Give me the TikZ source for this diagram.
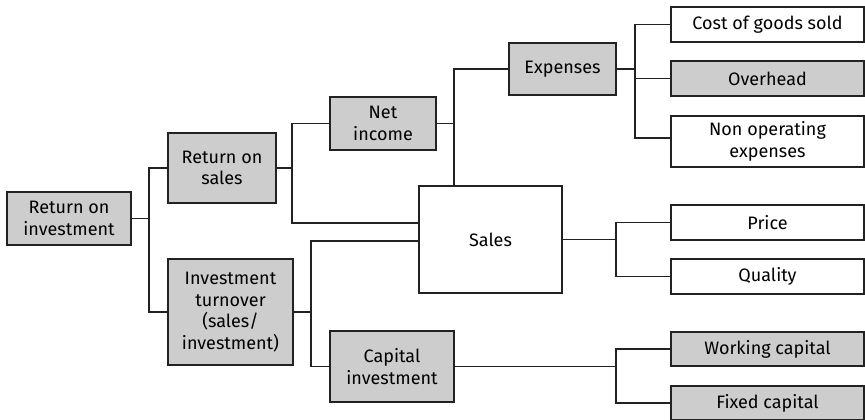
\documentclass[tikz,border=0pt]{standalone}
\usepackage{fontspec}
\setmainfont{Fira Sans}
\definecolor{boxgray}{HTML}{CDCDCD}
\definecolor{edge}{HTML}{222222}
\begin{document}
\begin{tikzpicture}[x=1pt,y=-1pt,
  every node/.style={font=\fontsize{18}{21.5}\selectfont, align=center, inner sep=0pt},
  bx/.style={draw=edge, line width=1.4pt, minimum width=#1},
  grey/.style={fill=boxgray},
  conn/.style={draw=edge, line width=1.4pt}]
\useasboundingbox (0,0) rectangle (865,420);
\node[bx=124, grey, minimum height=53] (roi) at (69,218.5) {Return on\\investment};
\node[bx=108, grey, minimum height=70] (ros) at (222,168) {Return on\\sales};
\node[bx=125, grey, minimum height=106] (it) at (230.5,312) {Investment\\turnover\\(sales/\\investment)};
\node[bx=106, grey, minimum height=53] (ni) at (383,123.5) {Net\\income};
\node[bx=143, minimum height=107] (sales) at (490.5,239.5) {Sales};
\node[bx=124, grey, minimum height=71] (ci) at (392,366.5) {Capital\\investment};
\node[bx=107, grey, minimum height=52] (exp) at (562.5,69) {Expenses};
\node[bx=193, minimum height=35] (cogs) at (767.5,24.5) {Cost of goods sold};
\node[bx=193, grey, minimum height=35] (oh) at (767.5,78.5) {Overhead};
\node[bx=193, minimum height=51] (nonop) at (767.5,141.5) {Non operating\\expenses};
\node[bx=193, minimum height=35] (price) at (767.5,222.5) {Price};
\node[bx=193, minimum height=35] (qual) at (767.5,276.5) {Quality};
\node[bx=193, grey, minimum height=34] (wc) at (767.5,349) {Working capital};
\node[bx=193, grey, minimum height=34] (fc) at (767.5,403) {Fixed capital};
% junctions
\coordinate (j1) at (149,218.5);
\coordinate (j2) at (292,168);
\coordinate (j3) at (454,123.5);
\coordinate (j4) at (635,69);
\coordinate (j5) at (616,239.5);
\coordinate (j6) at (311,312);
\coordinate (j7) at (616,366.5);
\coordinate (s1) at (419,223);
\coordinate (s2) at (419,241);
\coordinate (s3) at (454,186);
\coordinate (n3) at (671,138);
% connectors
\draw[conn] (roi.east) -- (j1);
\draw[conn] (ros.west) -| (j1) |- (it.west);
\draw[conn] (ros.east) -- (j2);
\draw[conn] (ni.west) -| (j2) |- (s1);
\draw[conn] (ni.east) -- (j3);
\draw[conn] (exp.west) -| (s3);
\draw[conn] (exp.east) -- (j4);
\draw[conn] (cogs.west) -| (j4) |- (n3);
\draw[conn] (j4 |- oh.west) -- (oh.west);
\draw[conn] (sales.east) -- (j5);
\draw[conn] (price.west) -| (j5) |- (qual.west);
\draw[conn] (it.east) -- (j6);
\draw[conn] (s2) -| (j6) |- (ci.west);
\draw[conn] (ci.east) -- (j7);
\draw[conn] (wc.west) -| (j7) |- (fc.west);
\end{tikzpicture}
\end{document}
